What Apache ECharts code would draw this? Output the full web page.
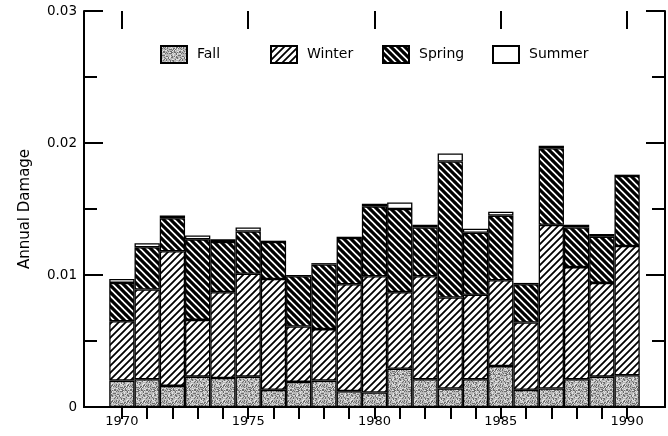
<!DOCTYPE html>
<html>
<head>
<meta charset="utf-8">
<style>
  html, body { margin: 0; padding: 0; background: #fff; }
  #chart { width: 668px; height: 436px; }
</style>
<script src="https://cdn.jsdelivr.net/npm/echarts@6/dist/echarts.min.js"></script>
</head>
<body>
<div id="chart"></div>
<script>
// Seasonal contributions to annual damage, 1970–1990
const years  = [1970, 1971, 1972, 1973, 1974, 1975, 1976, 1977, 1978, 1979, 1980,
                1981, 1982, 1983, 1984, 1985, 1986, 1987, 1988, 1989, 1990];
const fall   = [0.0020, 0.0021, 0.0016, 0.0023, 0.0022, 0.0023, 0.0013, 0.0019, 0.0020, 0.0012, 0.0011,
                0.0029, 0.0021, 0.0014, 0.0021, 0.0031, 0.0013, 0.0014, 0.0021, 0.0023, 0.0024];
const winter = [0.0045, 0.0068, 0.0102, 0.0043, 0.0065, 0.0078, 0.0084, 0.0042, 0.0039, 0.0081, 0.0088,
                0.0058, 0.0078, 0.0069, 0.0064, 0.0065, 0.0051, 0.0124, 0.0085, 0.0071, 0.0098];
const spring = [0.0029, 0.0032, 0.0025, 0.0061, 0.0038, 0.0032, 0.0028, 0.0038, 0.0049, 0.0035, 0.0053,
                0.0063, 0.0037, 0.0103, 0.0047, 0.0049, 0.0029, 0.0058, 0.0030, 0.0035, 0.0053];
const summer = [0.0003, 0.0003, 0.0002, 0.0003, 0.0002, 0.0003, 0.0001, 0.0001, 0.0001, 0.0001, 0.0002,
                0.0005, 0.0002, 0.0006, 0.0003, 0.0003, 0.0001, 0.0002, 0.0002, 0.0002, 0.0001];
const seasonNames = ['Fall', 'Winter', 'Spring', 'Summer'];
const yearLabels = [1970, 1975, 1980, 1985, 1990];

// The year axis runs half a year past an empty slot on each side.
const axisYears = [years[0] - 1, ...years, years[years.length - 1] + 1].map(String);
const padded = arr => [null, ...arr, null];

// --- fill textures -------------------------------------------------------
function makeCanvas(size) {
  const c = document.createElement('canvas');
  c.width = size; c.height = size;
  return c;
}
// fine gray stipple
function stipple() {
  const s = 16, c = makeCanvas(s), ctx = c.getContext('2d');
  ctx.fillStyle = '#b8b8b8';
  ctx.fillRect(0, 0, s, s);
  for (let y = 0; y < s; y++) {
    for (let x = 0; x < s; x++) {
      let h = Math.imul(x * 374761393 + y * 668265263, 1274126177) >>> 0;
      h = (h ^ (h >>> 13)) >>> 0;
      const v = h % 100;
      if (v < 28) { ctx.fillStyle = '#6e6e6e'; ctx.fillRect(x, y, 1, 1); }
      else if (v < 48) { ctx.fillStyle = '#e2e2e2'; ctx.fillRect(x, y, 1, 1); }
    }
  }
  return c;
}
// diagonal hatching; dir 1 = "/", dir -1 = "\"
function hatch(dir, width) {
  const s = 7, c = makeCanvas(s), ctx = c.getContext('2d');
  ctx.fillStyle = '#fff';
  ctx.fillRect(0, 0, s, s);
  ctx.strokeStyle = '#000';
  ctx.lineWidth = width;
  ctx.beginPath();
  for (let k = -1; k <= 1; k++) {
    if (dir > 0) { ctx.moveTo(k * s - 1, s + 1); ctx.lineTo(k * s + s + 1, -1); }
    else { ctx.moveTo(k * s - 1, -1); ctx.lineTo(k * s + s + 1, s + 1); }
  }
  ctx.stroke();
  return c;
}

const fills = [
  { image: stipple(), repeat: 'repeat' },
  { image: hatch(1, 1.8), repeat: 'repeat' },
  { image: hatch(-1, 3.2), repeat: 'repeat' },
  '#ffffff'
];
const seasonData = [fall, winter, spring, summer];

const FONT = 'DejaVu Sans';
const axisLineStyle = { color: '#000', width: 2 };
const tickStyle = { color: '#000', width: 2 };
const isYear = (idx, value) => years.includes(+value);
const isLabelYear = (idx, value) => yearLabels.includes(+value);

const series = seasonNames.map((name, i) => ({
  name: name,
  type: 'bar',
  stack: 'damage',
  xAxisIndex: 0,
  yAxisIndex: 0,
  barCategoryGap: '0%',
  data: padded(seasonData[i]),
  itemStyle: { color: fills[i], borderColor: '#000', borderWidth: 1.3 },
  emphasis: { disabled: true }
}));

const legendLeft = [160, 270, 382, 492];
const legends = seasonNames.map((name, i) => ({
  data: [name],
  left: legendLeft[i],
  top: 45,
  padding: 0,
  itemWidth: 26,
  itemHeight: 17,
  icon: 'rect',
  selectedMode: false,
  textStyle: { fontFamily: FONT, fontSize: 14, color: '#000', padding: [0, 0, 0, 5] }
}));

const catAxis = (extra) => Object.assign({
  type: 'category',
  data: axisYears,
  boundaryGap: true,
  splitLine: { show: false }
}, extra);

const option = {
  animation: false,
  backgroundColor: '#fff',
  textStyle: { fontFamily: FONT },
  legend: legends,
  grid: { left: 84, right: 3, top: 11, bottom: 29 },
  xAxis: [
    catAxis({
      position: 'bottom',
      axisLine: { show: true, lineStyle: axisLineStyle },
      axisTick: { show: false },
      axisLabel: { interval: isLabelYear, fontFamily: FONT, fontSize: 13, color: '#000', margin: 8 }
    }),
    catAxis({
      position: 'top',
      axisLine: { show: true, lineStyle: axisLineStyle },
      axisTick: { show: true, inside: true, length: 12, alignWithLabel: true, interval: isYear, lineStyle: tickStyle },
      axisLabel: { show: false, interval: isYear }
    }),
    catAxis({
      position: 'top',
      axisLine: { show: false },
      axisTick: { show: true, inside: true, length: 18, alignWithLabel: true, interval: isLabelYear, lineStyle: tickStyle },
      axisLabel: { show: false, interval: isLabelYear }
    })
  ],
  yAxis: [
    {
      type: 'value', position: 'left', min: 0, max: 0.03, interval: 0.01,
      name: 'Annual Damage', nameLocation: 'middle', nameGap: 51,
      nameTextStyle: { fontFamily: FONT, fontSize: 15, color: '#000' },
      axisLine: { show: true, lineStyle: axisLineStyle },
      axisTick: { show: true, inside: true, length: 19, lineStyle: tickStyle },
      minorTick: { show: true, splitNumber: 2, length: 13, lineStyle: tickStyle },
      splitLine: { show: false },
      axisLabel: { fontFamily: FONT, fontSize: 13.5, color: '#000', margin: 7 }
    },
    {
      type: 'value', position: 'right', min: 0, max: 0.03, interval: 0.01,
      axisLine: { show: true, lineStyle: axisLineStyle },
      axisTick: { show: true, inside: true, length: 19, lineStyle: tickStyle },
      minorTick: { show: true, splitNumber: 2, length: 13, lineStyle: tickStyle },
      splitLine: { show: false },
      axisLabel: { show: false }
    }
  ],
  series: series
};

const chart = echarts.init(document.getElementById('chart'), null, { renderer: 'canvas' });
chart.setOption(option);
</script>
</body>
</html>
